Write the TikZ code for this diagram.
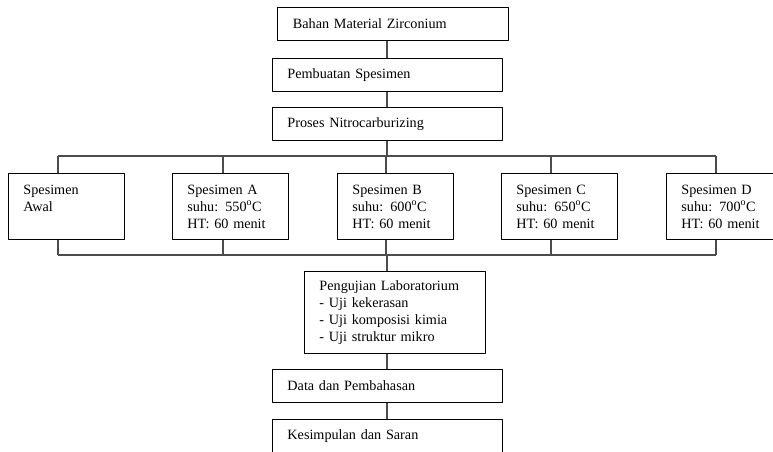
\documentclass[tikz,border=0pt]{standalone}
\usepackage{fontspec}
\setmainfont{Liberation Serif}
\begin{document}
\begin{tikzpicture}[x=1pt, y=-1pt, font=\fontsize{14.2}{17}\selectfont, line join=round,
	kotak/.style={draw, line width=0.9pt, anchor=north west, inner xsep=15pt, inner ysep=0pt, minimum width=230pt, minimum height=33pt, text width=200pt, align=left},
	sampel/.style={draw, line width=0.9pt, anchor=north west, inner xsep=15pt, inner ysep=6pt, minimum width=116pt, minimum height=66pt, text width=86pt, align=left},
	garis/.style={line width=1.1pt, black!70}]
	\useasboundingbox (0,0) rectangle (773,451);
	\clip (0,0) rectangle (773,451);
	% alur utama
	\node[kotak, minimum width=231pt] (bahan) at (277,7) {Bahan Material Zirconium};
	\node[kotak] (pembuatan) at (272,58) {Pembuatan Spesimen};
	\node[kotak] (proses) at (272,107) {Proses Nitrocarburizing};
	% spesimen
	\node[sampel] (awal) at (8,173) {Spesimen\\Awal\\\mbox{}};
	\node[sampel] (a) at (172,173) {Spesimen A\\suhu: 550$^{\mathrm{o}}$C\\HT: 60 menit};
	\node[sampel, minimum width=115pt] (b) at (337,173) {Spesimen B\\suhu: 600$^{\mathrm{o}}$C\\HT: 60 menit};
	\node[sampel] (c) at (501,173) {Spesimen C\\suhu: 650$^{\mathrm{o}}$C\\HT: 60 menit};
	\node[sampel] (d) at (666,173) {Spesimen D\\suhu: 700$^{\mathrm{o}}$C\\HT: 60 menit};
	% pengujian
	\node[kotak, minimum width=181pt, text width=151pt, minimum height=82pt] (uji) at (304,271)
		{Pengujian Laboratorium\\- Uji kekerasan\\- Uji komposisi kimia\\- Uji struktur mikro};
	\node[kotak] (data) at (272,369) {Data dan Pembahasan};
	\node[kotak] (saran) at (272,419) {Kesimpulan dan Saran};
	% penghubung
	\coordinate (tulang) at (387,0);
	\foreach \s/\x in {awal/58, a/223, b/386, c/551, d/716} {
		\coordinate (n\s) at (\x,156);
		\coordinate (s\s) at (\x,255);
		\draw[garis] (n\s) -- (\s.north -| n\s);
		\draw[garis] (\s.south -| s\s) -- (s\s);
	}
	\draw[garis] (nawal) -- (nd);
	\draw[garis] (sawal) -- (sd);
	\draw[garis] (bahan.south -| tulang) -- (pembuatan.north -| tulang);
	\draw[garis] (pembuatan.south -| tulang) -- (proses.north -| tulang);
	\draw[garis] (proses.south -| tulang) -- (nawal -| tulang);
	\draw[garis] (sawal -| tulang) -- (uji.north -| tulang);
	\draw[garis] (uji.south -| tulang) -- (data.north -| tulang);
	\draw[garis] (data.south -| tulang) -- (saran.north -| tulang);
\end{tikzpicture}
\end{document}
